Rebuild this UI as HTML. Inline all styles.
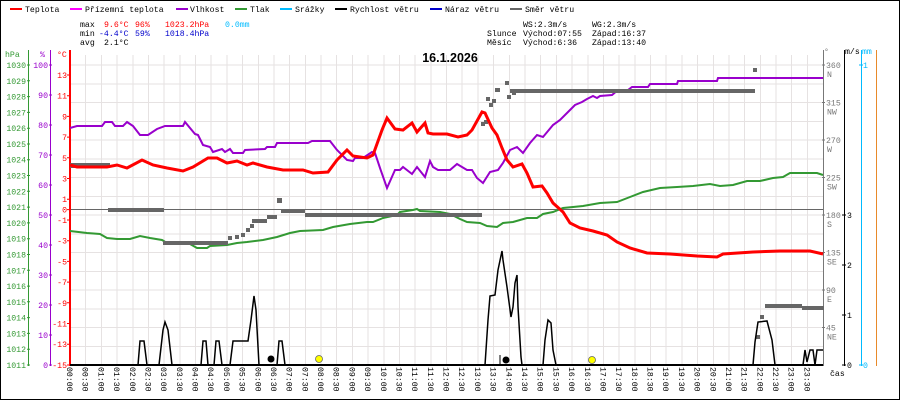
<!DOCTYPE html>
<html><head><meta charset="utf-8"><style>
html,body{margin:0;padding:0;background:#fff}
svg{display:block;font-family:"Liberation Mono",monospace}
</style></head><body>
<svg width="900" height="400" viewBox="0 0 900 400" xmlns="http://www.w3.org/2000/svg">
<rect x="0.5" y="0.5" width="899" height="399" fill="#fff" stroke="#000"/>
<g stroke="#e6e2e2" stroke-width="1" shape-rendering="crispEdges">
<path d="M70.5 65H823M70.5 83.75H823M70.5 102.5H823M70.5 121.25H823M70.5 140H823M70.5 158.75H823M70.5 177.5H823M70.5 196.25H823M70.5 215H823M70.5 233.75H823M70.5 252.5H823M70.5 271.25H823M70.5 290H823M70.5 308.75H823M70.5 327.5H823M70.5 346.25H823"/>
<path d="M85.7 55V365M101.4 55V365M117.1 55V365M132.8 55V365M148.4 55V365M164.1 55V365M179.8 55V365M195.5 55V365M211.2 55V365M226.9 55V365M242.6 55V365M258.3 55V365M274 55V365M289.6 55V365M305.3 55V365M321 55V365M336.7 55V365M352.4 55V365M368.1 55V365M383.8 55V365M399.5 55V365M415.2 55V365M430.9 55V365M446.6 55V365M462.2 55V365M477.9 55V365M493.6 55V365M509.3 55V365M525 55V365M540.7 55V365M556.4 55V365M572.1 55V365M587.8 55V365M603.4 55V365M619.1 55V365M634.8 55V365M650.5 55V365M666.2 55V365M681.9 55V365M697.6 55V365M713.3 55V365M729 55V365M744.7 55V365M760.3 55V365M776 55V365M791.7 55V365M807.4 55V365"/>
</g>
<line x1="70" y1="209.5" x2="823" y2="209.5" stroke="#666" stroke-width="1"/>

<!-- legend -->
<g font-size="8.2" fill="#000">
<rect x="10" y="8" width="12" height="2" fill="#f00"/><text x="25" y="12">Teplota</text>
<rect x="70" y="8" width="12" height="2" fill="#f0f"/><text x="85" y="12">Přízemní teplota</text>
<rect x="176" y="8" width="12" height="2" fill="#90c"/><text x="190" y="12">Vlhkost</text>
<rect x="235" y="8" width="12" height="2" fill="#393"/><text x="250" y="12">Tlak</text>
<rect x="280" y="8" width="12" height="2" fill="#0bf"/><text x="295" y="12">Srážky</text>
<rect x="335" y="8" width="12" height="2" fill="#000"/><text x="350" y="12">Rychlost větru</text>
<rect x="430" y="8" width="12" height="2" fill="#00c"/><text x="445" y="12">Náraz větru</text>
<rect x="510" y="8" width="12" height="2" fill="#666"/><text x="525" y="12">Směr větru</text>
<text x="80" y="27">max</text><text x="104" y="27" fill="#f00">9.6°C</text><text x="135" y="27" fill="#f00">96%</text><text x="165" y="27" fill="#f00">1023.2hPa</text><text x="225" y="27" fill="#0bf">0.0mm</text>
<text x="80" y="36">min</text><text x="99" y="36" fill="#00c">-4.4°C</text><text x="135" y="36" fill="#00c">59%</text><text x="165" y="36" fill="#00c">1018.4hPa</text>
<text x="80" y="45">avg</text><text x="104" y="45">2.1°C</text>
<text x="523" y="27">WS:2.3m/s</text><text x="592" y="27">WG:2.3m/s</text>
<text x="487" y="36">Slunce</text><text x="523" y="36">Východ:07:55</text><text x="592" y="36">Západ:16:37</text>
<text x="487" y="45">Měsíc</text><text x="523" y="45">Východ:6:36</text><text x="592" y="45">Západ:13:40</text>
</g>
<text x="450" y="62" font-size="12.5" font-weight="bold" text-anchor="middle" font-family="Liberation Sans,sans-serif">16.1.2026</text>

<!-- left axes -->
<line x1="28.5" y1="50" x2="28.5" y2="366" stroke="#393"/>
<line x1="50.5" y1="50" x2="50.5" y2="366" stroke="#90c"/>
<line x1="70" y1="50" x2="70" y2="366" stroke="#f00" stroke-width="2"/>
<g font-size="8.2">
<text x="5" y="57" fill="#393">hPa</text><text x="40" y="57" fill="#90c">%</text><text x="57" y="57" fill="#f00">°C</text>
</g>
<g font-size="8.2" fill="#393" text-anchor="end">
<text x="26" y="68">1030</text><text x="26" y="83.8">1029</text><text x="26" y="99.6">1028</text><text x="26" y="115.4">1027</text><text x="26" y="131.2">1026</text><text x="26" y="147">1025</text><text x="26" y="162.7">1024</text><text x="26" y="178.5">1023</text><text x="26" y="194.3">1022</text><text x="26" y="210.1">1021</text><text x="26" y="225.9">1020</text><text x="26" y="241.7">1019</text><text x="26" y="257.5">1018</text><text x="26" y="273.3">1017</text><text x="26" y="289.1">1016</text><text x="26" y="304.8">1015</text><text x="26" y="320.6">1014</text><text x="26" y="336.4">1013</text><text x="26" y="352.2">1012</text><text x="26" y="368">1011</text>
</g>
<path stroke="#393" d="M27 65H30M27 80.8H30M27 96.6H30M27 112.4H30M27 128.2H30M27 144H30M27 159.7H30M27 175.5H30M27 191.3H30M27 207.1H30M27 222.9H30M27 238.7H30M27 254.5H30M27 270.3H30M27 286.1H30M27 301.8H30M27 317.6H30M27 333.4H30M27 349.2H30M27 365H30"/>
<g font-size="8.2" fill="#90c" text-anchor="end">
<text x="48" y="68">100</text><text x="48" y="98">90</text><text x="48" y="128">80</text><text x="48" y="158">70</text><text x="48" y="188">60</text><text x="48" y="218">50</text><text x="48" y="248">40</text><text x="48" y="278">30</text><text x="48" y="308">20</text><text x="48" y="338">10</text><text x="48" y="368">0</text>
</g>
<path stroke="#90c" d="M49 65H52M49 95H52M49 125H52M49 155H52M49 185H52M49 215H52M49 245H52M49 275H52M49 305H52M49 335H52M49 365H52"/>
<g font-size="8.2" fill="#f00" text-anchor="end">
<text x="67" y="78">13</text><text x="67" y="98.7">11</text><text x="67" y="119.4">9</text><text x="67" y="140.1">7</text><text x="67" y="160.8">5</text><text x="67" y="181.5">3</text><text x="67" y="202.2">1</text><text x="67" y="212.6">0</text><text x="67" y="223">-1</text><text x="67" y="243.7">-3</text><text x="67" y="264.4">-5</text><text x="67" y="285.1">-7</text><text x="67" y="305.8">-9</text><text x="67" y="326.5">-11</text><text x="67" y="347.2">-13</text><text x="67" y="368">-15</text>
</g>
<path stroke="#f00" d="M67 75H71M67 95.7H71M67 116.4H71M67 137.1H71M67 157.8H71M67 178.5H71M67 199.2H71M67 209.6H71M67 220H71M67 240.7H71M67 261.4H71M67 282.1H71M67 302.8H71M67 323.5H71M67 344.2H71M67 365H71"/>

<!-- right axes -->
<line x1="823.5" y1="50" x2="823.5" y2="366" stroke="#777"/>
<line x1="844.5" y1="50" x2="844.5" y2="366" stroke="#000"/>
<line x1="861.5" y1="50" x2="861.5" y2="366" stroke="#0bf"/>
<line x1="876.5" y1="50" x2="876.5" y2="366" stroke="#e88a2a"/>
<g font-size="8.2" fill="#777">
<text x="824" y="54">°</text>
<text x="826" y="68">360</text><text x="827" y="77">N</text>
<text x="826" y="105.5">315</text><text x="827" y="114.5">NW</text>
<text x="826" y="143">270</text><text x="827" y="152">W</text>
<text x="826" y="180.5">225</text><text x="827" y="189.5">SW</text>
<text x="826" y="218">180</text><text x="827" y="227">S</text>
<text x="826" y="255.5">135</text><text x="827" y="264.5">SE</text>
<text x="826" y="293">90</text><text x="827" y="302">E</text>
<text x="826" y="330.5">45</text><text x="827" y="339.5">NE</text>
</g>
<path stroke="#777" d="M822 65H825M822 102.5H825M822 140H825M822 177.5H825M822 215H825M822 252.5H825M822 290H825M822 327.5H825"/>
<g font-size="8.2" fill="#000">
<text x="845" y="54">m/s</text>
<text x="847" y="218">3</text><text x="847" y="268">2</text><text x="847" y="318">1</text><text x="847" y="368">0</text>
<text x="830" y="376">čas</text>
</g>
<path stroke="#000" d="M842 215H846M842 265H846M842 315H846M842 365H846"/>
<g font-size="8.2" fill="#0bf"><text x="862" y="54">mm</text><text x="863" y="68">1</text><text x="863" y="368">0</text></g>
<path stroke="#0bf" d="M859 65H863M859 365H863"/>

<!-- time labels -->
<g font-size="8.2" fill="#000">
<text transform="translate(67,367) rotate(90)">00:00</text><text transform="translate(82.7,367) rotate(90)">00:30</text><text transform="translate(98.4,367) rotate(90)">01:00</text><text transform="translate(114.1,367) rotate(90)">01:30</text><text transform="translate(129.8,367) rotate(90)">02:00</text><text transform="translate(145.4,367) rotate(90)">02:30</text><text transform="translate(161.1,367) rotate(90)">03:00</text><text transform="translate(176.8,367) rotate(90)">03:30</text><text transform="translate(192.5,367) rotate(90)">04:00</text><text transform="translate(208.2,367) rotate(90)">04:30</text><text transform="translate(223.9,367) rotate(90)">05:00</text><text transform="translate(239.6,367) rotate(90)">05:30</text><text transform="translate(255.3,367) rotate(90)">06:00</text><text transform="translate(271,367) rotate(90)">06:30</text><text transform="translate(286.6,367) rotate(90)">07:00</text><text transform="translate(302.3,367) rotate(90)">07:30</text><text transform="translate(318,367) rotate(90)">08:00</text><text transform="translate(333.7,367) rotate(90)">08:30</text><text transform="translate(349.4,367) rotate(90)">09:00</text><text transform="translate(365.1,367) rotate(90)">09:30</text><text transform="translate(380.8,367) rotate(90)">10:00</text><text transform="translate(396.5,367) rotate(90)">10:30</text><text transform="translate(412.2,367) rotate(90)">11:00</text><text transform="translate(427.9,367) rotate(90)">11:30</text><text transform="translate(443.6,367) rotate(90)">12:00</text><text transform="translate(459.2,367) rotate(90)">12:30</text><text transform="translate(474.9,367) rotate(90)">13:00</text><text transform="translate(490.6,367) rotate(90)">13:30</text><text transform="translate(506.3,367) rotate(90)">14:00</text><text transform="translate(522,367) rotate(90)">14:30</text><text transform="translate(537.7,367) rotate(90)">15:00</text><text transform="translate(553.4,367) rotate(90)">15:30</text><text transform="translate(569.1,367) rotate(90)">16:00</text><text transform="translate(584.8,367) rotate(90)">16:30</text><text transform="translate(600.4,367) rotate(90)">17:00</text><text transform="translate(616.1,367) rotate(90)">17:30</text><text transform="translate(631.8,367) rotate(90)">18:00</text><text transform="translate(647.5,367) rotate(90)">18:30</text><text transform="translate(663.2,367) rotate(90)">19:00</text><text transform="translate(678.9,367) rotate(90)">19:30</text><text transform="translate(694.6,367) rotate(90)">20:00</text><text transform="translate(710.3,367) rotate(90)">20:30</text><text transform="translate(726,367) rotate(90)">21:00</text><text transform="translate(741.7,367) rotate(90)">21:30</text><text transform="translate(757.3,367) rotate(90)">22:00</text><text transform="translate(773,367) rotate(90)">22:30</text><text transform="translate(788.7,367) rotate(90)">23:00</text><text transform="translate(804.4,367) rotate(90)">23:30</text>
</g>

<!-- pressure -->
<polyline fill="none" stroke="#393" stroke-width="2" points="70,231 87,233 100,234 107,238 117,239 130,239 140,236 150,238 162,240 167,243 190,244 197,248 207,248 210,246 227,245 237,243 247,242 263,240 277,237 290,233 300,231 323,230 333,227 350,224 367,222 373,222 383,218 397,215 400,212 413,210 417,209 420,211 440,212 450,214 460,219 467,222 480,223 487,226 497,227 503,223 513,222 527,218 537,218 543,214 553,212 563,208 583,206 600,203 617,202 630,197 643,192 660,188 677,187 693,186 710,184 720,186 733,185 747,181 760,181 773,178 783,177 790,173 803,173 817,173 823,175"/>
<!-- humidity -->
<polyline fill="none" stroke="#90c" stroke-width="2" points="70,128 77,126 102,126 105,122 112,122 115,126 123,126 127,122 133,126 140,135 148,135 157,129 165,126 183,126 185,122 195,134 198,135 203,145 210,147 213,152 222,149 225,152 230,149 233,153 243,153 245,150 265,149 267,147 275,147 277,143 308,143 312,141 330,141 337,150 347,160 353,161 355,158 363,158 372,152 375,153 380,168 387,188 395,170 400,170 403,167 412,174 417,167 425,177 430,161 433,167 438,170 450,170 457,164 467,170 472,170 477,178 483,183 490,172 498,170 503,163 510,150 517,147 523,153 530,143 537,135 543,137 553,125 560,120 567,113 575,105 582,102 587,99 593,96 597,98 600,96 612,95 618,90 628,90 632,87 648,87 650,84 677,84 678,81 717,81 718,78 823,78"/>
<!-- wind direction -->
<g fill="#666">
<rect x="70" y="163" width="40" height="5"/><rect x="108" y="208" width="56" height="4"/><rect x="163" y="241" width="65" height="4"/>
<rect x="228" y="236" width="4" height="4"/><rect x="235" y="235" width="4" height="4"/><rect x="241" y="233" width="4" height="4"/><rect x="246" y="228" width="4" height="4"/><rect x="250" y="224" width="4" height="4"/><rect x="252" y="219" width="15" height="4"/><rect x="267" y="215" width="10" height="4"/><rect x="277" y="198" width="5" height="5"/><rect x="281" y="209" width="24" height="4"/><rect x="305" y="213" width="177" height="4"/>
<rect x="481" y="122" width="4" height="4"/><rect x="484" y="120" width="4" height="4"/><rect x="486" y="97" width="4" height="4"/><rect x="489" y="103" width="4" height="4"/><rect x="492" y="99" width="4" height="4"/><rect x="495" y="88" width="5" height="4"/><rect x="505" y="81" width="4" height="4"/><rect x="507" y="95" width="4" height="4"/><rect x="510" y="89" width="4" height="4"/><rect x="512" y="91" width="4" height="4"/><rect x="514" y="89" width="241" height="4"/><rect x="753" y="68" width="4" height="4"/>
<rect x="756" y="335" width="4" height="4"/><rect x="760" y="315" width="4" height="4"/><rect x="765" y="304" width="37" height="4"/><rect x="802" y="306" width="22" height="4"/>
</g>
<!-- temperature -->
<polyline fill="none" stroke="#f00" stroke-width="3" points="70,165 77,167 107,167 117,165 127,168 142,160 153,165 167,168 183,171 193,167 208,158 217,158 227,163 237,161 247,165 253,163 267,167 283,170 303,170 313,173 328,172 337,160 347,150 353,156 367,158 373,155 382,130 387,118 395,129 403,130 412,123 417,132 425,123 428,133 433,134 447,134 458,137 467,135 472,130 482,112 485,113 492,128 497,135 502,148 507,160 513,167 522,164 527,173 533,187 542,186 547,193 553,203 563,212 570,223 580,228 593,231 607,235 617,242 630,248 647,253 670,254 697,256 717,257 723,254 753,252 780,251 810,251 823,254"/>
<!-- rain -->
<path stroke="#0bf" stroke-width="2" d="M139 365H146M160 365H173M202 365H208M215 365H222M231 365H259M278 365H285M485 365H521M543 365H556M753 365H775M803 365H823"/>
<!-- wind speed -->
<polyline fill="none" stroke="#000" stroke-width="1.5" points="70,365 138,365 140,341 144,341 147,365 159,365 163,330 165,322 168,330 172,365 201,365 203,341 206,341 208,365 214,365 216,341 219,341 222,365 230,365 233,341 248,341 251,320 254,296 256,310 259,365 277,365 279,341 282,341 285,365 485,365 488,320 490,296 495,295 498,270 502,251 503,260 507,287 511,317 513,307 515,283 517,275 518,307 521,357 522,365 543,365 545,340 548,320 551,323 553,350 556,365 753,365 755,342 758,322 767,321 772,340 775,365 803,365 805,350 807,362 810,350 813,350 815,365 817,350 820,350 823,350"/>
<line x1="70" y1="365" x2="823" y2="365" stroke="#000" stroke-width="2"/>
<line x1="500" y1="355" x2="500" y2="365" stroke="#000"/>
<circle cx="271" cy="359" r="3.5" fill="#000"/>
<circle cx="506" cy="360" r="3.5" fill="#000"/>
<circle cx="319" cy="359" r="3.5" fill="#ff0" stroke="#666" stroke-width="0.8"/>
<circle cx="592" cy="360" r="3.5" fill="#ff0" stroke="#666" stroke-width="0.8"/>
</svg>
</body></html>
